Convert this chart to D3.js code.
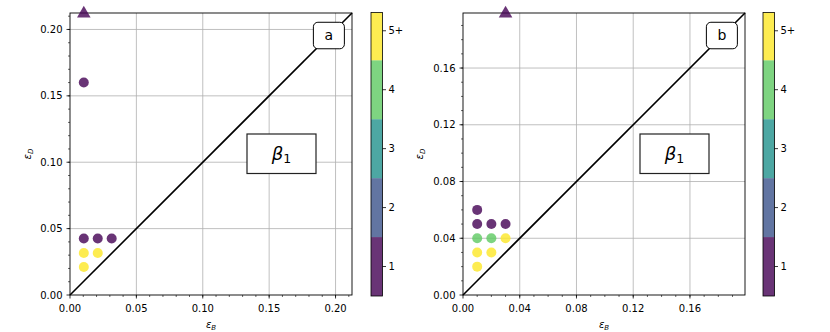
<!DOCTYPE html>
<html><head><meta charset="utf-8">
<script src="https://cdn.jsdelivr.net/npm/d3@7"></script>
<style>
body{margin:0;background:#fff;}
svg{display:block;font-family:"DejaVu Sans",sans-serif;}
</style></head>
<body><svg id="c" width="830" height="332"></svg>
<script>
// ---------- data ----------
const countCategories = [1, 2, 3, 4, 5];
const countLabels = ["1", "2", "3", "4", "5+"];
const countColors = ["#440154", "#3b528b", "#21918c", "#5ec962", "#fde725"];

// panel a
const aX = [0.0104, 0.0104, 0.0209, 0.0314, 0.0104, 0.0209, 0.0104];
const aY = [0.160, 0.0426, 0.0426, 0.0426, 0.0317, 0.0317, 0.0211];
const aCount = [1, 1, 1, 1, 5, 5, 5];
const aOverX = [0.0104];     // points beyond the top limit (triangles)
const aOverCount = [1];
const aMax = 0.2124;
const aTicks = [0, 0.05, 0.10, 0.15, 0.20];
const aMinor = d3.range(1, 22).map(i => i * 0.01);

// panel b
const bX = [0.01, 0.01, 0.02, 0.03, 0.01, 0.02, 0.03, 0.01, 0.02, 0.01];
const bY = [0.06, 0.05, 0.05, 0.05, 0.04, 0.04, 0.04, 0.03, 0.03, 0.02];
const bCount = [1, 1, 1, 1, 4, 4, 5, 5, 5, 5];
const bOverX = [0.03];
const bOverCount = [1];
const bMax = 0.1988;
const bTicks = [0, 0.04, 0.08, 0.12, 0.16];
const bMinor = d3.range(1, 20).map(i => i * 0.01);

const panelLetters = ["a", "b"];
const annotationText = "β";
const annotationSub = "1";
const cbarDomain = [0.5, 5.31];

// ---------- drawing ----------
const svg = d3.select("#c");
const color = d3.scaleOrdinal().domain(countCategories).range(countColors);
const ALPHA = 0.8;

function panel(cfg) {
  const {left, right, top, bottom, max, ticks, minor, xs, ys, counts, overX, overCount, letter, cbX, ylabX} = cfg;
  const x = d3.scaleLinear().domain([0, max]).range([left, right]);
  const y = d3.scaleLinear().domain([0, max]).range([bottom, top]);
  const g = svg.append("g");

  // grid
  g.selectAll(".gx").data(ticks.filter(t => t > 0)).join("line")
    .attr("x1", d => x(d)).attr("x2", d => x(d)).attr("y1", top).attr("y2", bottom)
    .attr("stroke", "#b0b0b0").attr("stroke-width", 0.8);
  g.selectAll(".gy").data(ticks.filter(t => t > 0)).join("line")
    .attr("y1", d => y(d)).attr("y2", d => y(d)).attr("x1", left).attr("x2", right)
    .attr("stroke", "#b0b0b0").attr("stroke-width", 0.8);

  // diagonal
  g.append("line").attr("x1", x(0)).attr("y1", y(0)).attr("x2", x(max)).attr("y2", y(max))
    .attr("stroke", "#000").attr("stroke-width", 1.6);

  // points
  g.selectAll(".pt").data(xs.map((v, i) => ({x: v, y: ys[i], c: counts[i]}))).join("circle")
    .attr("cx", d => x(d.x)).attr("cy", d => y(d.y)).attr("r", 5)
    .attr("fill", d => color(d.c)).attr("fill-opacity", ALPHA);

  // beta box
  const bx = left + 0.75 * (right - left), by = top + 0.5 * (bottom - top);
  g.append("rect").attr("x", bx - 34.5).attr("y", by - 20).attr("width", 69).attr("height", 39.5)
    .attr("fill", "#fff").attr("stroke", "#222").attr("stroke-width", 1.2);
  const t = g.append("text").attr("x", bx).attr("y", by + 6).attr("text-anchor", "middle")
    .attr("font-size", 18);
  t.append("tspan").attr("font-style", "italic").text(annotationText);
  t.append("tspan").attr("font-size", 12.5).attr("dy", 3).text(annotationSub);

  // letter box
  const lx = left + 0.918 * (right - left), ly = top + 0.079 * (bottom - top);
  g.append("rect").attr("x", lx - 15.5).attr("y", ly - 13).attr("width", 31).attr("height", 26.5)
    .attr("rx", 4.5).attr("fill", "#fff").attr("stroke", "#000").attr("stroke-width", 1);
  g.append("text").attr("x", lx).attr("y", ly + 5).attr("text-anchor", "middle")
    .attr("font-size", 14).text(letter);

  // spines
  g.append("rect").attr("x", left).attr("y", top).attr("width", right - left).attr("height", bottom - top)
    .attr("fill", "none").attr("stroke", "#000").attr("stroke-width", 0.9);

  // ticks
  g.selectAll(".mxt").data(minor).join("line")
    .attr("x1", d => x(d)).attr("x2", d => x(d)).attr("y1", bottom).attr("y2", bottom + 2)
    .attr("stroke", "#000").attr("stroke-width", 0.6);
  g.selectAll(".myt").data(minor).join("line")
    .attr("y1", d => y(d)).attr("y2", d => y(d)).attr("x1", left).attr("x2", left - 2)
    .attr("stroke", "#000").attr("stroke-width", 0.6);
  g.selectAll(".xt").data(ticks).join("line")
    .attr("x1", d => x(d)).attr("x2", d => x(d)).attr("y1", bottom).attr("y2", bottom + 3.5)
    .attr("stroke", "#000").attr("stroke-width", 0.8);
  g.selectAll(".yt").data(ticks).join("line")
    .attr("y1", d => y(d)).attr("y2", d => y(d)).attr("x1", left).attr("x2", left - 3.5)
    .attr("stroke", "#000").attr("stroke-width", 0.8);
  const fmt = d3.format(".2f");
  g.selectAll(".xl").data(ticks).join("text")
    .attr("x", d => x(d)).attr("y", bottom + 17).attr("text-anchor", "middle")
    .attr("font-size", 10).attr("fill", "#000").text(fmt);
  g.selectAll(".yl").data(ticks).join("text")
    .attr("x", left - 7.5).attr("y", d => y(d) + 3.6).attr("text-anchor", "end")
    .attr("font-size", 10).attr("fill", "#000").text(fmt);

  // axis labels
  const xl = g.append("text").attr("x", (left + right) / 2).attr("y", bottom + 33)
    .attr("text-anchor", "middle").attr("font-size", 10);
  xl.append("tspan").attr("font-style", "italic").text("ε");
  xl.append("tspan").attr("font-style", "italic").attr("font-size", 7).attr("dy", 2).text("B");
  const yl = g.append("text").attr("transform", `translate(${ylabX},${(top + bottom) / 2}) rotate(-90)`)
    .attr("text-anchor", "middle").attr("font-size", 10);
  yl.append("tspan").attr("font-style", "italic").text("ε");
  yl.append("tspan").attr("font-style", "italic").attr("font-size", 7).attr("dy", 2).text("D");

  // overflow triangles
  const tri = d3.symbol().type(d3.symbolTriangle).size(80);
  g.selectAll(".tri").data(overX.map((v, i) => ({x: v, c: overCount[i]}))).join("path")
    .attr("d", tri).attr("transform", d => `translate(${x(d.x)},${y(max) + 0.5})`)
    .attr("fill", d => color(d.c)).attr("fill-opacity", ALPHA);

  // colorbar
  const cb = d3.scaleLinear().domain(cbarDomain).range([296, 12.5]);
  const cbW = 11.5;
  g.selectAll(".cbs").data(countCategories).join("rect")
    .attr("x", cbX).attr("width", cbW)
    .attr("y", d => cb(Math.min(d + 0.5, cbarDomain[1])))
    .attr("height", d => cb(d - 0.5) - cb(Math.min(d + 0.5, cbarDomain[1])))
    .attr("fill", d => color(d)).attr("fill-opacity", ALPHA);
  g.append("rect").attr("x", cbX).attr("y", cb(cbarDomain[1])).attr("width", cbW)
    .attr("height", cb(cbarDomain[0]) - cb(cbarDomain[1]))
    .attr("fill", "none").attr("stroke", "#000").attr("stroke-width", 0.8);
  g.selectAll(".cbt").data(countCategories).join("line")
    .attr("x1", cbX + cbW).attr("x2", cbX + cbW + 3.5).attr("y1", d => cb(d)).attr("y2", d => cb(d))
    .attr("stroke", "#000").attr("stroke-width", 0.8);
  g.selectAll(".cbl").data(countCategories).join("text")
    .attr("x", cbX + cbW + 6).attr("y", d => cb(d) + 3.6).attr("font-size", 10)
    .text((d, i) => countLabels[i]);
}

panel({left: 70, right: 352, top: 13, bottom: 295, max: aMax, ticks: aTicks, minor: aMinor,
  xs: aX, ys: aY, counts: aCount, overX: aOverX, overCount: aOverCount, letter: panelLetters[0],
  cbX: 371, ylabX: 31});
panel({left: 463, right: 745, top: 13, bottom: 295, max: bMax, ticks: bTicks, minor: bMinor,
  xs: bX, ys: bY, counts: bCount, overX: bOverX, overCount: bOverCount, letter: panelLetters[1],
  cbX: 763, ylabX: 423});
</script></body></html>
